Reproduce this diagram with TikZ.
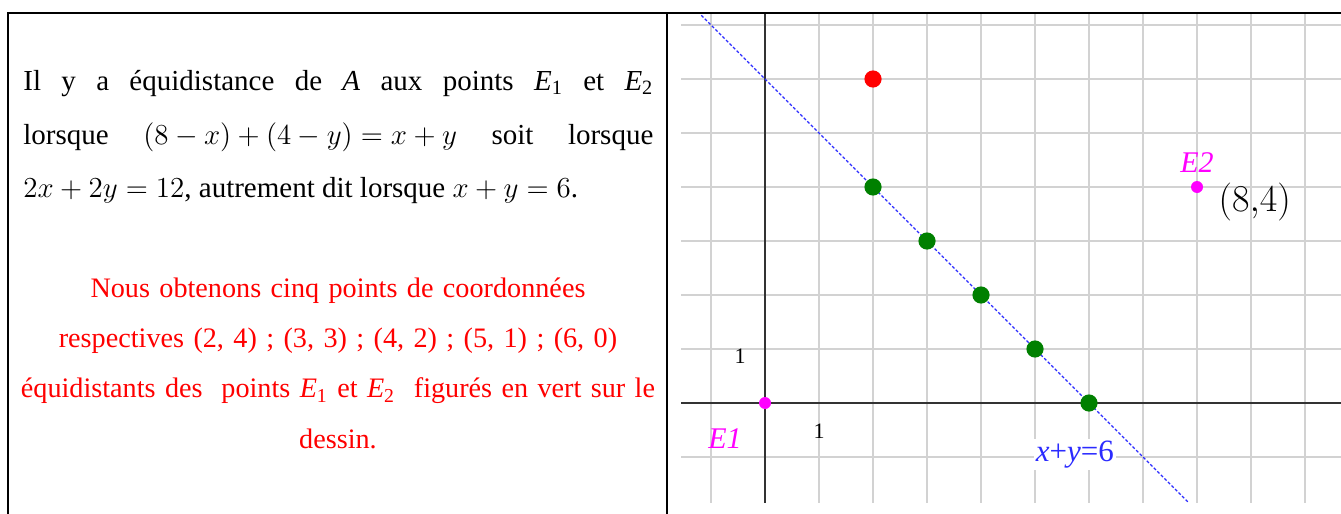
\documentclass[tikz,border=0pt]{standalone}
\usepackage{fix-cm}
\usepackage{fontspec}
\setmainfont{Liberation Serif}
\usepackage{xcolor}
\definecolor{gridGray}{HTML}{D2D2D2}
\definecolor{axisInk}{HTML}{333333}
\definecolor{solGreen}{HTML}{008000}
\definecolor{ptMagenta}{HTML}{FF00FF}
\definecolor{lineBlue}{HTML}{2B2BFF}
\usetikzlibrary{positioning}

\begin{document}
\begin{tikzpicture}[
  x=0.5pt, y=-0.5pt,
  frameLine/.style={line width=1pt, black},
  paraText/.style={inner sep=0pt},
  gridLine/.style={gridGray, line width=0.7pt},
  axisLine/.style={axisInk, line width=0.6pt},
  eqLine/.style={lineBlue, line width=0.6pt, dash pattern=on 1.5pt off 1pt},
  dotNode/.style={circle, inner sep=0pt, minimum size=#1},
  solPoint/.style={dotNode=8.6pt, fill=solGreen},
  redPoint/.style={dotNode=8.6pt, fill=red},
  endPoint/.style={dotNode=6pt, fill=ptMagenta},
  endLabel/.style={ptMagenta, inner sep=0pt, font=\fontsize{15pt}{18pt}\selectfont\itshape},
  tickLabel/.style={inner sep=0pt, font=\fontsize{11pt}{13pt}\selectfont},
]
\useasboundingbox (0,0) rectangle (1341,514);

% ------------------- text panel (left) -------------------
\node[paraText, anchor=north west, text width=315pt, font=\fontsize{14.5pt}{26.75pt}\selectfont, align=justify] (para1) at (23,70)
  {Il y a équidistance de \textit{A} aux points \textit{E}\textsubscript{1} et \textit{E}\textsubscript{2}\linebreak
   lorsque\hfill$(8-x)+(4-y)=x+y$\hfill soit\hfill lorsque\linebreak
   $2x+2y=12$, autrement dit lorsque $x+y=6$.};

\node[paraText, anchor=north, text width=345pt, font=\fontsize{14.1pt}{25.2pt}\selectfont, align=center, text=red] (para2) at (338,277)
  {Nous obtenons cinq points de coordonnées\\
   respectives (2, 4) ; (3, 3) ; (4, 2) ; (5, 1) ; (6, 0)\\
   équidistants des\ \ points \textit{E}\textsubscript{1} et \textit{E}\textsubscript{2}\ \ figurés en vert sur le\\
   dessin.};

% frame
\draw[frameLine] (8,514) -- (8,12.5) -- (1341,12.5);
\draw[frameLine] (667,12.5) -- (667,514);

% ------------------- graph panel (right) -------------------
\begin{scope}[shift={(765,403)}, x=27pt, y=27pt]
  % grid
  \foreach \i in {-1,...,10}
    \draw[gridLine] (\i,-1.85) -- (\i,7.2);
  \foreach \j in {-1,...,7}
    \draw[gridLine] (-1.55,\j) -- (10.67,\j);
  % axes
  \draw[axisLine] (-1.55,0) -- (10.67,0);
  \draw[axisLine] (0,-1.85) -- (0,7.2);
  \node[tickLabel] (oneY) at (-0.46,0.87) {1};
  \node[tickLabel] (oneX) at (1,-0.52) {1};

  % line x+y=6
  \coordinate (lineTop) at (-1.18,7.18);
  \coordinate (lineBot) at (7.83,-1.83);
  \draw[eqLine] (lineTop) -- (lineBot);
  \node[lineBlue, fill=white, inner sep=1pt, font=\fontsize{15.5pt}{18pt}\selectfont] (eqLabel) at (5.74,-0.96)
    {\textit{x}+\textit{y}=6};

  % points
  \node[redPoint] (ptA) at (2,6) {};
  \foreach \i in {2,...,6}
    \node[solPoint] (sol\i) at (\i,{6-\i}) {};
  \node[endPoint] (e1) at (0,0) {};
  \node[endPoint] (e2) at (8,4) {};

  \node[endLabel] (e1Label) at (-0.74,-0.65) {E1};
  \node[endLabel] (e2Label) at (8,4.46) {E2};
  \node[inner sep=0pt, font=\fontsize{19pt}{22pt}\selectfont] (e2Coord) at (9.07,3.72) {$\Bigl(8{,}4\Bigr)$};
\end{scope}

\end{tikzpicture}
\end{document}
